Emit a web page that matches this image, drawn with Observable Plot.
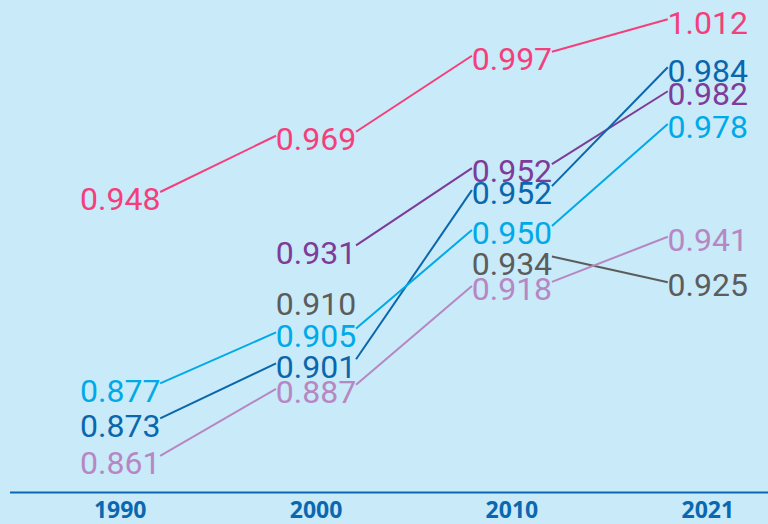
<!DOCTYPE html>
<html><head><meta charset="utf-8">
<script src="https://cdn.jsdelivr.net/npm/d3@7"></script>
<script src="https://cdn.jsdelivr.net/npm/@observablehq/plot@0.6"></script>
<style>
html,body{margin:0;padding:0;background:#c8eaf9;}
#chart svg{display:block;}
</style>
</head><body><div id="chart"></div>
<script>
// ---- data ----
const years = ["1990", "2000", "2010", "2021"];
const seriesNames = ["Series 1", "Series 2", "Series 3", "Series 4", "Series 5", "Series 5 (2000)", "Series 6"];
const series1Values = [0.948, 0.969, 0.997, 1.012];
const series2Values = [null, 0.931, 0.952, 0.982];
const series3Values = [0.873, 0.901, 0.952, 0.984];
const series4Values = [0.877, 0.905, 0.950, 0.978];
const series5Values = [null, null, 0.934, 0.925];
const series5bValues = [null, 0.910, null, null];   // shown unconnected in the reference
const series6Values = [0.861, 0.887, 0.918, 0.941];

// ---- styling / layout ----
const seriesColors = ["#f43f7c", "#7d3c98", "#0a67ad", "#00a9e8", "#5c5c5c", "#5c5c5c", "#b687c2"];
// vertical label offsets in px, to keep crowded labels apart
const series1Nudge = [-6, -4, -1, 7];
const series2Nudge = [null, -3, -22, -10];
const series3Nudge = [-2, 22, 0, -28];
const series4Nudge = [-25, 3, 34, 11];
const series5Nudge = [null, null, 17, 12];
const series5bNudge = [null, -14, null, null];
const series6Nudge = [0, 6, -5, 14];

const allValues = [series1Values, series2Values, series3Values, series4Values, series5Values, series5bValues, series6Values];
const allNudges = [series1Nudge, series2Nudge, series3Nudge, series4Nudge, series5Nudge, series5bNudge, series6Nudge];

const W = 768, H = 524;
const margin = {top: 0, bottom: 32, left: 10, right: 0};
const xDomain = [-0.56, 3.31];
const yDomain = [0.851, 1.017];
const ppx = (W - margin.left - margin.right) / (xDomain[1] - xDomain[0]);
const ppu = (H - margin.top - margin.bottom) / (yDomain[1] - yDomain[0]);
const halfW = 40;     // half label width, px
const exitOff = -7;   // line leaves label this far from its centre (px)
const entryOff = -3;  // line enters label this far from its centre (px)

const labels = [];
const segments = [];
allValues.forEach((vals, s) => {
  const nud = allNudges[s];
  const pts = [];
  vals.forEach((v, i) => {
    if (v == null) return;
    const p = {series: seriesNames[s], i, value: v, y: v - nud[i] / ppu};
    labels.push(p);
    pts.push(p);
  });
  for (let k = 0; k + 1 < pts.length; k++) {
    const a = pts[k], b = pts[k + 1];
    segments.push({
      series: a.series,
      x1: a.i + halfW / ppx, y1: a.y - exitOff / ppu,
      x2: b.i - halfW / ppx, y2: b.y - entryOff / ppu
    });
  }
});

const chart = Plot.plot({
  width: W, height: H,
  marginTop: margin.top, marginBottom: margin.bottom,
  marginLeft: margin.left, marginRight: margin.right,
  style: {background: "#c8eaf9", fontFamily: "Open Sans", fontSize: "23px", fontWeight: "bold", color: "#0b68b0"},
  x: {domain: xDomain, axis: null},
  y: {domain: yDomain, axis: null},
  color: {domain: seriesNames, range: seriesColors},
  marks: [
    Plot.ruleY([yDomain[0]], {stroke: "#0b68b0", strokeWidth: 2}),
    Plot.axisX({
      ticks: [0, 1, 2, 3], tickFormat: i => years[i],
      tickSize: 0, tickPadding: 9,
      fontSize: 23, fontFamily: "Open Sans", fontWeight: "bold", fill: "#0b68b0"
    }),
    Plot.link(segments, {x1: "x1", y1: "y1", x2: "x2", y2: "y2", stroke: "series", strokeWidth: 2}),
    Plot.text(labels, {
      x: "i", y: "y", text: d => d.value.toFixed(3), fill: "series",
      fontFamily: "Roboto", fontSize: 32, fontWeight: "normal",
      textAnchor: "middle", lineAnchor: "middle", dy: 1
    })
  ]
});
document.getElementById("chart").appendChild(chart);
</script>
</body></html>
